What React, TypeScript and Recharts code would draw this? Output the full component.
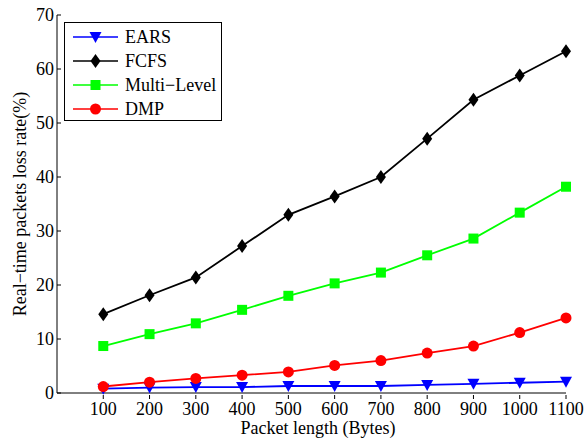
import { LineChart, Line, XAxis, YAxis } from "recharts";

const lengths = [100, 200, 300, 400, 500, 600, 700, 800, 900, 1000, 1100];
const ears = [0.8, 1.0, 1.1, 1.1, 1.3, 1.3, 1.3, 1.5, 1.7, 1.9, 2.1];
const fcfs = [14.6, 18.1, 21.4, 27.2, 33.0, 36.4, 40.0, 47.1, 54.3, 58.8, 63.3];
const multiLevel = [8.7, 10.9, 12.9, 15.4, 18.0, 20.3, 22.3, 25.5, 28.6, 33.4, 38.2];
const dmp = [1.2, 2.0, 2.7, 3.3, 3.9, 5.1, 6.0, 7.4, 8.7, 11.2, 13.9];
const yTicks = [0, 10, 20, 30, 40, 50, 60, 70];

const data = lengths.map((len, i) => ({
  len,
  ears: ears[i],
  fcfs: fcfs[i],
  multi: multiLevel[i],
  dmp: dmp[i],
}));

const FONT = "'Liberation Serif', 'Times New Roman', serif";

type Shape = "tri" | "diamond" | "square" | "circle";

function marker(shape: Shape, cx: number, cy: number, color: string, key?: string | number) {
  if (shape === "tri")
    return <path key={key} d={`M${cx - 6},${cy - 5} L${cx + 6},${cy - 5} L${cx},${cy + 6} Z`} fill={color} />;
  if (shape === "diamond")
    return <path key={key} d={`M${cx},${cy - 7} L${cx + 5},${cy} L${cx},${cy + 7} L${cx - 5},${cy} Z`} fill={color} />;
  if (shape === "square")
    return <rect key={key} x={cx - 5} y={cy - 5} width={10} height={10} fill={color} />;
  return <circle key={key} cx={cx} cy={cy} r={5.5} fill={color} />;
}

const dotFn = (shape: Shape, color: string) => (p: any) => marker(shape, p.cx, p.cy, color, p.key ?? p.index);

const series: { key: string; name: string; color: string; shape: Shape }[] = [
  { key: "ears", name: "EARS", color: "#0000ff", shape: "tri" },
  { key: "fcfs", name: "FCFS", color: "#000000", shape: "diamond" },
  { key: "multi", name: "Multi\u2212Level", color: "#00ff00", shape: "square" },
  { key: "dmp", name: "DMP", color: "#ff0000", shape: "circle" },
];

// ticks point inward like MATLAB
const XTick = (p: any) => (
  <g>
    <line x1={p.x} x2={p.x} y1={p.y - 2} y2={p.y - 6} stroke="#000" />
    <text x={p.x} y={p.y + 14} textAnchor="middle" fontFamily={FONT} fontSize={18} fill="#000">
      {p.payload.value}
    </text>
  </g>
);

const YTick = (p: any) => (
  <g>
    <line x1={57} x2={61} y1={p.y} y2={p.y} stroke="#000" />
    <text x={54} y={p.y + 6} textAnchor="end" fontFamily={FONT} fontSize={18} fill="#000">
      {p.payload.value}
    </text>
  </g>
);

const LegendBox = () => (
  <div
    style={{
      position: "absolute",
      left: 64,
      top: 22,
      border: "1.5px solid #000",
      background: "#fff",
      width: 158,
      height: 99,
      boxSizing: "border-box",
      paddingTop: 2,
    }}
  >
    {series.map((s) => (
      <div key={s.key} style={{ display: "flex", alignItems: "center", height: 24 }}>
        <svg width={56} height={20} style={{ marginLeft: 3 }}>
          <line x1={5} x2={50} y1={10} y2={10} stroke={s.color} strokeWidth={1.5} />
          {marker(s.shape, 27.5, 10, s.color)}
        </svg>
        <span style={{ fontFamily: FONT, fontSize: 18, color: "#000", marginLeft: 1 }}>{s.name}</span>
      </div>
    ))}
  </div>
);

export default function App() {
  return (
    <div style={{ position: "absolute", left: 0, top: 0, width: 586, height: 440, background: "#fff" }}>
      <LineChart width={586} height={440} data={data} margin={{ top: 15, right: 20, bottom: 17, left: 0 }}>
        <XAxis
          dataKey="len"
          type="number"
          domain={[0, 1100]}
          ticks={lengths}
          tickLine={false}
          tick={<XTick />}
          axisLine={{ stroke: "#000" }}
          height={30}
        />
        <YAxis
          type="number"
          domain={[0, 70]}
          ticks={yTicks}
          tickLine={false}
          tick={<YTick />}
          axisLine={{ stroke: "#000" }}
          width={57}
        />
        {series.map((s) => (
          <Line
            key={s.key}
            dataKey={s.key}
            name={s.name}
            stroke={s.color}
            strokeWidth={1.8}
            dot={dotFn(s.shape, s.color)}
            activeDot={false}
            isAnimationActive={false}
          />
        ))}
      </LineChart>
      <LegendBox />
      <div
        style={{
          position: "absolute",
          left: 20,
          top: 204,
          transform: "translate(-50%, -50%) rotate(-90deg)",
          whiteSpace: "nowrap",
          fontFamily: FONT,
          fontSize: 18,
        }}
      >
        Real{"\u2212"}time packets loss rate(%)
      </div>
      <div
        style={{
          position: "absolute",
          left: 318,
          top: 428,
          transform: "translate(-50%, -50%)",
          whiteSpace: "nowrap",
          fontFamily: FONT,
          fontSize: 18,
        }}
      >
        Packet length (Bytes)
      </div>
    </div>
  );
}
